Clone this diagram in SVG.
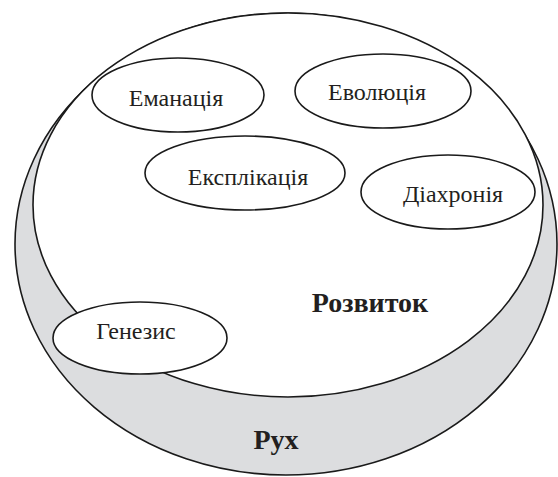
<svg xmlns="http://www.w3.org/2000/svg" width="558" height="477" viewBox="0 0 558 477">
<style>
.shape{stroke:#1a1a1a;stroke-width:1.6;}
.lbl{font-family:"Liberation Serif","Times New Roman",serif;font-size:24px;fill:#231f20;text-anchor:middle;}
.big{font-family:"Liberation Serif","Times New Roman",serif;font-size:28px;font-weight:bold;fill:#231f20;text-anchor:middle;}
</style>
<rect width="558" height="477" fill="#ffffff"/>
<g id="rukh">
<ellipse class="shape" cx="286" cy="244" rx="271" ry="231" fill="#dcdddf"/>
<text class="big" x="276" y="449">Рух</text>
</g>
<g id="rozvytok">
<ellipse class="shape" cx="288" cy="205" rx="255" ry="192" fill="#ffffff"/>
<text class="big" x="370" y="312">Розвиток</text>
</g>
<g id="connectors"></g>
<g id="emanatsiia">
<ellipse class="shape" cx="178" cy="95" rx="86" ry="37" fill="#ffffff"/>
<text class="lbl" x="176" y="106">Еманація</text>
</g>
<g id="evoliutsiia">
<ellipse class="shape" cx="383" cy="91" rx="88" ry="37" fill="#ffffff"/>
<text class="lbl" x="377" y="100">Еволюція</text>
</g>
<g id="eksplikatsiia">
<ellipse class="shape" cx="245" cy="173" rx="100" ry="37" fill="#ffffff"/>
<text class="lbl" x="248" y="185">Експлікація</text>
</g>
<g id="diakhroniia">
<ellipse class="shape" cx="448" cy="192" rx="87" ry="37" fill="#ffffff"/>
<text class="lbl" x="453" y="202">Діахронія</text>
</g>
<g id="henezys">
<ellipse class="shape" cx="140" cy="338" rx="87" ry="36" fill="#ffffff"/>
<text class="lbl" x="136" y="339">Генезис</text>
</g>
</svg>
